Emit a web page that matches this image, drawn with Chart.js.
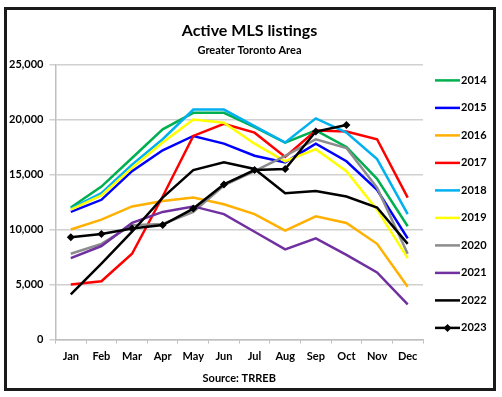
<!DOCTYPE html>
<html>
<head>
<meta charset="utf-8">
<script src="https://cdn.jsdelivr.net/npm/chart.js@4.4.0/dist/chart.umd.min.js"></script>
<style>
  body { margin: 0; background: #fff; }
  #frame { position: absolute; left: 4px; top: 7px; width: 492px; height: 384px; box-sizing: border-box; border: 3px solid #1a1a1a; }
  #chart-listings { position: absolute; left: 0; top: 0; }
</style>
</head>
<body>
<div id="frame"></div>
<canvas id="chart-listings" width="502" height="397"></canvas>
<script>
var months = ["Jan", "Feb", "Mar", "Apr", "May", "Jun", "Jul", "Aug", "Sep", "Oct", "Nov", "Dec"]
var years = ["2014", "2015", "2016", "2017", "2018", "2019", "2020", "2021", "2022", "2023"]
var y2014 = [12000, 13900, 16500, 19100, 20600, 20600, 19300, 17900, 19000, 17500, 14600, 10300]
var y2015 = [11600, 12700, 15300, 17200, 18500, 17800, 16700, 16100, 17800, 16200, 13600, 9200]
var y2016 = [10000, 10900, 12100, 12600, 12900, 12300, 11400, 9900, 11200, 10600, 8700, 4800]
var y2017 = [5000, 5300, 7800, 13000, 18500, 19600, 18800, 16600, 19000, 18900, 18200, 12900]
var y2018 = [11900, 13300, 15900, 18200, 20900, 20900, 19400, 17900, 20100, 18800, 16400, 11400]
var y2019 = [11800, 13100, 15600, 17900, 20000, 19700, 17800, 16200, 17300, 15300, 11800, 7400]
var y2020 = [7800, 8700, 10400, 10500, 11600, 14000, 15300, 16700, 18200, 17400, 13800, 7800]
var y2021 = [7400, 8500, 10600, 11600, 12100, 11400, 9800, 8200, 9200, 7700, 6100, 3200]
var y2022 = [4100, 6900, 9800, 12900, 15400, 16100, 15500, 13300, 13500, 13000, 12000, 8700]
var y2023 = [9300, 9600, 10100, 10400, 11900, 14100, 15400, 15500, 18900, 19500, null, null]
var yTicks = [0, 5000, 10000, 15000, 20000, 25000]

var series = [y2014, y2015, y2016, y2017, y2018, y2019, y2020, y2021, y2022, y2023]
var colors = ["#00B050", "#0000FF", "#FFB000", "#FF0000", "#00B0F0", "#FFFF00", "#8C8C8C", "#7030A0", "#000000", "#000000"]

var font = "Lato, 'Open Sans', sans-serif"

// legend drawn by hand to the right of the plot (Excel style: line sample + year)
var sideLegend = {
	id: "sideLegend",
	afterDraw: function(chart) {
		var ctx = chart.ctx;
		var area = chart.chartArea;
		chart.data.datasets.forEach(function(ds, i) {
			var y = area.top + 16 + i * 27.5;
			var x0 = area.right + 12, x1 = area.right + 37;
			ctx.save();
			ctx.strokeStyle = ds.borderColor;
			ctx.lineWidth = ds.borderWidth;
			ctx.beginPath();
			ctx.moveTo(x0, y);
			ctx.lineTo(x1, y);
			ctx.stroke();
			if (ds.pointRadius > 0) {
				var cx = (x0 + x1) / 2, r = ds.pointRadius;
				ctx.fillStyle = ds.borderColor;
				ctx.beginPath();
				ctx.moveTo(cx, y - r);
				ctx.lineTo(cx + r, y);
				ctx.lineTo(cx, y + r);
				ctx.lineTo(cx - r, y);
				ctx.closePath();
				ctx.fill();
			}
			ctx.fillStyle = "#000";
			ctx.font = "bold 11px " + font;
			ctx.textBaseline = "middle";
			ctx.textAlign = "left";
			ctx.fillText(ds.label, x1 + 1, y);
			ctx.restore();
		});
	}
};

var ctxListings = document.getElementById("chart-listings").getContext("2d");
var chartListings = new Chart(ctxListings, {
	type: "line",
	data: {
		labels: months,
		datasets: series.map(function(vals, i) {
			return {
				label: years[i],
				data: vals,
				borderColor: colors[i],
				backgroundColor: colors[i],
				borderWidth: 2.5,
				tension: 0,
				pointRadius: i == 9 ? 4 : 0,
				pointStyle: "rectRot",
				pointBackgroundColor: colors[i],
				pointBorderWidth: 0,
				order: 10 - i			//later years on top
			};
		})
	},
	plugins: [sideLegend],
	options: {
		responsive: false,
		animation: false,
		layout: {
			padding: {left: 3, right: 6, top: 0, bottom: 6}
		},
		plugins: {
			title: {
				display: true,
				text: "Active MLS listings",
				color: "#000",
				font: {family: font, size: 16, weight: "bold", lineHeight: 1.2},
				padding: {top: 21, bottom: 0}
			},
			subtitle: {
				display: true,
				text: "Greater Toronto Area",
				color: "#000",
				font: {family: font, size: 11, weight: "bold", lineHeight: 1.2},
				padding: {top: 4, bottom: 7}
			},
			legend: {display: false},
			tooltip: {enabled: false}
		},
		scales: {
			x: {
				offset: true,
				grid: {display: true, drawOnChartArea: false, offset: true, tickLength: 4, color: "#BFBFBF", lineWidth: 1},
				border: {color: "#BFBFBF", width: 1.5},
				ticks: {color: "#000", padding: 6, maxRotation: 0, font: {family: font, size: 11, weight: "bold"}},
				title: {
					display: true,
					text: "Source: TRREB",
					color: "#000",
					font: {family: font, size: 11, weight: "bold", lineHeight: 1.2},
					padding: {top: 3, bottom: 6}
				}
			},
			y: {
				min: 0,
				max: 25000,
				afterBuildTicks: function(axis) {
					axis.ticks = yTicks.map(function(v) { return {value: v}; });
				},
				grid: {color: "#D0D0D0", lineWidth: 1.5, tickLength: 6, drawTicks: true},
				border: {display: true, color: "#BFBFBF", width: 1.5},
				ticks: {
					color: "#000",
					padding: 6,
					font: {family: font, size: 11, weight: "bold"},
					callback: function(v) { return v.toLocaleString("en-US"); }
				}
			},
			// empty right axis, only keeps room for the legend
			yRoom: {
				position: "right",
				min: 0,
				max: 25000,
				grid: {display: false},
				border: {display: false},
				ticks: {display: false},
				afterFit: function(axis) { axis.width = 73; }
			}
		}
	}
});
</script>
</body>
</html>
